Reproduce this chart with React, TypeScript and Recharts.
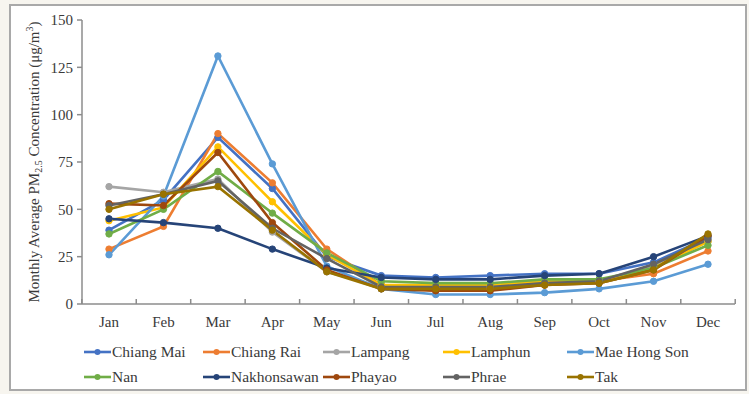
import { LineChart, Line, XAxis, YAxis, Label } from "recharts";

const months = ["Jan", "Feb", "Mar", "Apr", "May", "Jun", "Jul", "Aug", "Sep", "Oct", "Nov", "Dec"];
const yTicks = [0, 25, 50, 75, 100, 125, 150];

const chiangMai = [39, 55, 88, 61, 25, 15, 14, 15, 16, 16, 22, 35];
const chiangRai = [29, 41, 90, 64, 29, 10, 7, 8, 10, 12, 16, 28];
const lampang = [62, 59, 66, 38, 17, 9, 9, 9, 11, 12, 20, 33];
const lamphun = [44, 51, 83, 54, 26, 10, 10, 10, 12, 12, 19, 33];
const maeHongSon = [26, 57, 131, 74, 20, 8, 5, 5, 6, 8, 12, 21];
const nan = [37, 50, 70, 48, 27, 12, 11, 11, 13, 13, 19, 31];
const nakhonsawan = [45, 43, 40, 29, 19, 14, 13, 13, 15, 16, 25, 36];
const phayao = [53, 52, 80, 43, 18, 8, 7, 7, 10, 11, 18, 36];
const phrae = [52, 58, 65, 40, 24, 9, 9, 9, 11, 12, 21, 34];
const tak = [50, 58, 62, 39, 17, 8, 8, 8, 10, 11, 18, 37];

const series = [
  { key: "Chiang Mai", values: chiangMai, color: "#4472c4" },
  { key: "Chiang Rai", values: chiangRai, color: "#ed7d31" },
  { key: "Lampang", values: lampang, color: "#a5a5a5" },
  { key: "Lamphun", values: lamphun, color: "#ffc000" },
  { key: "Mae Hong Son", values: maeHongSon, color: "#5b9bd5" },
  { key: "Nan", values: nan, color: "#70ad47" },
  { key: "Nakhonsawan", values: nakhonsawan, color: "#264478" },
  { key: "Phayao", values: phayao, color: "#9e480e" },
  { key: "Phrae", values: phrae, color: "#636363" },
  { key: "Tak", values: tak, color: "#997300" },
];

const chartData = months.map((m, i) => {
  const row: Record<string, string | number> = { month: m };
  series.forEach((s) => {
    row[s.key] = s.values[i];
  });
  return row;
});

// legend: 5 columns x 2 rows, like the Excel legend
const legendCols = [84, 203, 323, 443, 567];
const legendRowY = [352, 377];

const FONT = "Liberation Serif, Tinos, Times New Roman, DejaVu Serif, serif";
const AXIS = "#8c8c8c";
const TXT = "#3a3a3a";

function MonthTick(props: any) {
  const { x, y, payload, index, visibleTicksCount } = props;
  const n = visibleTicksCount || 12;
  const bw = 653 / n;
  const left = x - bw / 2;
  return (
    <g>
      <line x1={left} x2={left} y1={y} y2={y - 5} stroke={AXIS} strokeWidth={1.5} />
      {index === n - 1 && (
        <line x1={x + bw / 2} x2={x + bw / 2} y1={y} y2={y - 5} stroke={AXIS} strokeWidth={1.5} />
      )}
      <text x={x} y={y + 23} textAnchor="middle" fontSize={15} fill={TXT} fontFamily={FONT}>
        {payload.value}
      </text>
    </g>
  );
}

function YTitle(props: any) {
  const vb = props.viewBox || { x: 0, y: 20, width: 82, height: 284 };
  const cx = 34;
  const cy = vb.y + vb.height / 2;
  return (
    <text
      x={cx}
      y={cy}
      transform={`rotate(-90 ${cx} ${cy})`}
      textAnchor="middle"
      dominantBaseline="central"
      fontSize={15}
      fill={TXT}
      fontFamily={FONT}
    >
      Monthly Average PM
      <tspan fontSize={10} dy={4}>2.5</tspan>
      <tspan dy={-4}> Concentration (μg/m</tspan>
      <tspan fontSize={10} dy={-5}>3</tspan>
      <tspan dy={5}>)</tspan>
    </text>
  );
}

export default function App() {
  return (
    <div style={{ position: "fixed", left: 0, top: 0, width: 749, height: 394, background: "#f7f5ef" }}>
      <div
        style={{
          position: "absolute",
          left: 9,
          top: 4,
          width: 738,
          height: 387,
          border: "2px solid #a9a9a9",
          background: "#fff",
          boxSizing: "border-box",
        }}
      />
      <div style={{ position: "absolute", left: 0, top: 0 }}>
        <LineChart width={749} height={394} data={chartData} margin={{ top: 20, right: 14, bottom: 60, left: 0 }}>
          <XAxis
            dataKey="month"
            height={30}
            tickSize={0}
            tickMargin={0}
            padding={{ left: 27, right: 27 }}
            stroke={AXIS}
            strokeWidth={1.5}
            tick={<MonthTick />}
            interval={0}
          />
          <YAxis
            width={82}
            domain={[0, 150]}
            ticks={yTicks}
            tickSize={5}
            tickMargin={4}
            stroke={AXIS}
            strokeWidth={1.5}
            tick={{ fontSize: 15, fill: TXT, fontFamily: FONT }}
          >
            <Label content={<YTitle />} />
          </YAxis>
          {series.map((s) => (
            <Line
              key={s.key}
              dataKey={s.key}
              stroke={s.color}
              strokeWidth={2.6}
              dot={{ r: 3.2, fill: s.color, stroke: s.color, strokeWidth: 1 }}
              isAnimationActive={false}
            />
          ))}
        </LineChart>
      </div>
      <svg width={749} height={394} style={{ position: "absolute", left: 0, top: 0, pointerEvents: "none" }}>
        {series.map((s, i) => {
          const left = legendCols[i % 5];
          const cy = legendRowY[i < 5 ? 0 : 1];
          return (
            <g key={s.key}>
              <line x1={left} x2={left + 27} y1={cy} y2={cy} stroke={s.color} strokeWidth={2.6} />
              <circle cx={left + 13.5} cy={cy} r={3} fill={s.color} />
              <text x={left + 28} y={cy + 5} fontSize={15.5} fill={TXT} fontFamily={FONT}>
                {s.key}
              </text>
            </g>
          );
        })}
      </svg>
    </div>
  );
}
